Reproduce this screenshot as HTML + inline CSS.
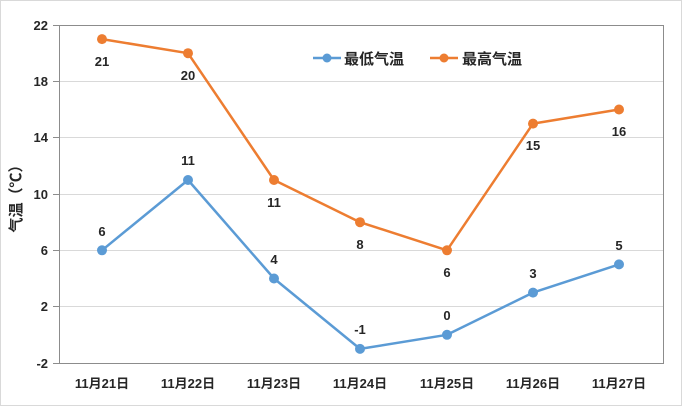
<!DOCTYPE html>
<html><head><meta charset="utf-8"><style>
html,body{margin:0;padding:0;background:#fff;}
svg{display:block;}
text{font-family:"Liberation Sans","Noto Sans CJK SC",sans-serif;font-weight:bold;fill:#262626;}
</style></head><body>
<svg width="685" height="407" viewBox="0 0 685 407" xmlns="http://www.w3.org/2000/svg">
<rect x="0.5" y="0.5" width="681" height="405" fill="#fff" stroke="#d9d9d9" stroke-width="1"/>
<!-- gridlines -->
<g stroke="#d9d9d9" stroke-width="1">
<line x1="59" y1="81.5" x2="663" y2="81.5"/>
<line x1="59" y1="137.5" x2="663" y2="137.5"/>
<line x1="59" y1="194.5" x2="663" y2="194.5"/>
<line x1="59" y1="250.5" x2="663" y2="250.5"/>
<line x1="59" y1="306.5" x2="663" y2="306.5"/>
</g>
<!-- plot border -->
<rect x="59.5" y="25.5" width="604" height="338" fill="none" stroke="#8c8c8c" stroke-width="1"/>
<!-- ticks -->
<g stroke="#8c8c8c" stroke-width="1">
<line x1="53" y1="25.5" x2="59" y2="25.5"/>
<line x1="53" y1="81.5" x2="59" y2="81.5"/>
<line x1="53" y1="137.5" x2="59" y2="137.5"/>
<line x1="53" y1="194.5" x2="59" y2="194.5"/>
<line x1="53" y1="250.5" x2="59" y2="250.5"/>
<line x1="53" y1="306.5" x2="59" y2="306.5"/>
<line x1="53" y1="363.5" x2="59" y2="363.5"/>
</g>
<g font-size="13" text-anchor="end">
<text x="48" y="30">22</text>
<text x="48" y="86">18</text>
<text x="48" y="142">14</text>
<text x="48" y="199">10</text>
<text x="48" y="255">6</text>
<text x="48" y="311">2</text>
<text x="48" y="368">-2</text>
</g>
<text x="0" y="0" font-size="15" text-anchor="middle" transform="translate(21,195) rotate(-90)">气温（℃）</text>
<!-- x labels -->
<g font-size="13" text-anchor="middle">
<text x="102" y="388">11月21日</text>
<text x="188" y="388">11月22日</text>
<text x="274" y="388">11月23日</text>
<text x="360" y="388">11月24日</text>
<text x="447" y="388">11月25日</text>
<text x="533" y="388">11月26日</text>
<text x="619" y="388">11月27日</text>
</g>
<!-- orange series -->
<polyline fill="none" stroke="#ed7d31" stroke-width="2.5" stroke-linejoin="round"
points="102,39.1 188,53.2 274,180 360,222.2 447,250.3 533,123.6 619,109.5"/>
<g fill="#ed7d31">
<circle cx="102" cy="39.1" r="5"/><circle cx="188" cy="53.2" r="5"/><circle cx="274" cy="180" r="5"/>
<circle cx="360" cy="222.2" r="5"/><circle cx="447" cy="250.3" r="5"/><circle cx="533" cy="123.6" r="5"/>
<circle cx="619" cy="109.5" r="5"/>
</g>
<!-- blue series -->
<polyline fill="none" stroke="#5b9bd5" stroke-width="2.5" stroke-linejoin="round"
points="102,250.3 188,180 274,278.5 360,348.9 447,334.8 533,292.6 619,264.4"/>
<g fill="#5b9bd5">
<circle cx="102" cy="250.3" r="5"/><circle cx="188" cy="180" r="5"/><circle cx="274" cy="278.5" r="5"/>
<circle cx="360" cy="348.9" r="5"/><circle cx="447" cy="334.8" r="5"/><circle cx="533" cy="292.6" r="5"/>
<circle cx="619" cy="264.4" r="5"/>
</g>
<!-- data labels orange (below) -->
<g font-size="13" text-anchor="middle" fill="#404040">
<text x="102" y="66">21</text>
<text x="188" y="80">20</text>
<text x="274" y="207">11</text>
<text x="360" y="249">8</text>
<text x="447" y="277">6</text>
<text x="533" y="150">15</text>
<text x="619" y="136">16</text>
</g>
<!-- data labels blue (above) -->
<g font-size="13" text-anchor="middle" fill="#404040">
<text x="102" y="236">6</text>
<text x="188" y="165">11</text>
<text x="274" y="264">4</text>
<text x="360" y="334">-1</text>
<text x="447" y="320">0</text>
<text x="533" y="278">3</text>
<text x="619" y="250">5</text>
</g>
<!-- legend -->
<line x1="313" y1="58" x2="341" y2="58" stroke="#5b9bd5" stroke-width="2.5"/>
<circle cx="327" cy="58" r="4.5" fill="#5b9bd5"/>
<text x="344" y="64" font-size="15">最低气温</text>
<line x1="430" y1="58" x2="458" y2="58" stroke="#ed7d31" stroke-width="2.5"/>
<circle cx="444" cy="58" r="4.5" fill="#ed7d31"/>
<text x="462" y="64" font-size="15">最高气温</text>
</svg>
</body></html>
